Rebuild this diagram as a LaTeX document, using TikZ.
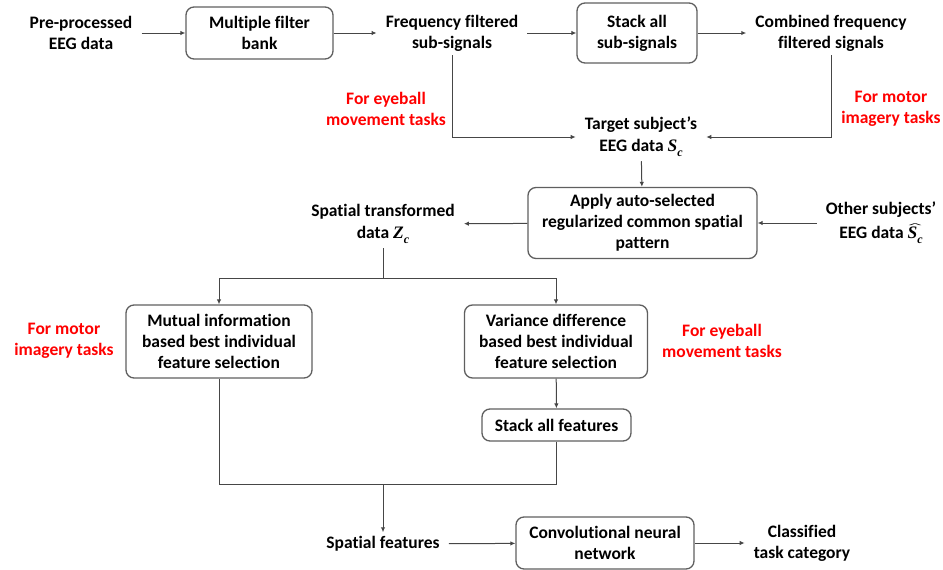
\documentclass[tikz,border=0pt]{standalone}
\usepackage{fontspec}
\setmainfont{Carlito}[Ligatures=NoCommon]
\newfontfamily\symfont{Liberation Serif}
\usepackage{graphicx}
\usetikzlibrary{arrows.meta,calc}
\definecolor{linegray}{RGB}{70,70,70}
\definecolor{boxgray}{RGB}{95,95,95}
\definecolor{notered}{RGB}{255,0,0}
% bold italic serif symbol with a subscript
\newcommand\sym[2]{{\symfont\bfseries\itshape #1\raisebox{-0.3em}{\fontsize{12}{12}\selectfont #2}}}
% a hat stretched over the whole of its argument
\newcommand\hatover[1]{\setbox0\hbox{#1}\leavevmode\rlap{\raisebox{0.66em}{\resizebox{\wd0}{0.22em}{\mdseries\textasciicircum}}}\box0}
\begin{document}
\begin{tikzpicture}[x=1pt,y=-1pt,
  font=\fontsize{17.5}{21}\selectfont\bfseries,
  box/.style={draw=boxgray, line width=1.3pt, rounded corners=8pt, align=center, inner sep=0pt},
  lbl/.style={align=center, inner xsep=9pt, inner ysep=4pt},
  note/.style={align=center, text=notered, inner sep=0pt},
  arr/.style={draw=linegray, line width=1pt, -{Latex[length=5pt,width=4.5pt]}},
  ln/.style={draw=linegray, line width=1pt}]
\useasboundingbox (0,0) rectangle (943,570);

% top row: filtering stage
\node[lbl] (pre) at (81,33) {Pre-processed\\EEG data};
\node[box, minimum width=147, minimum height=52] (mfb) at (259.5,33) {Multiple filter\\bank};
\node[lbl] (freq) at (452,33) {Frequency filtered\\sub-signals};
\node[box, minimum width=120, minimum height=60] (stack) at (637,33) {Stack all\\sub-signals};
\node[lbl] (comb) at (831,33) {Combined frequency\\filtered signals};

% target subject data
\node[lbl] (target) at (641,137) {Target subject’s\\[1pt]EEG data \sym{S}{c}};
\node[note] (noteA) at (386,109) {For eyeball\\movement tasks};
\node[note] (noteB) at (891,109) {For motor\\imagery tasks};

% spatial filtering
\node[box, minimum width=229, minimum height=71] (rcsp) at (642.5,223) {Apply auto-selected\\regularized common spatial\\pattern};
\node[lbl] (other) at (881,223) {Other subjects’\\[3pt]EEG data \hatover{\sym{S}{c}}};
\node[lbl] (ztr) at (383,224) {Spatial transformed\\[1pt]data \sym{Z}{c}};

% feature selection
\node[note] (noteC) at (64,341) {For motor\\imagery tasks};
\node[box, minimum width=186, minimum height=73] (mi) at (219,341.5) {Mutual information\\based best individual\\feature selection};
\node[box, minimum width=183, minimum height=73] (vd) at (556,341.5) {Variance difference\\based best individual\\feature selection};
\node[note] (noteD) at (722,341) {For eyeball\\movement tasks};
\node[box, minimum width=149, minimum height=32] (sf) at (556.5,425) {Stack all features};

% classification
\node[lbl] (spf) at (383,544) {Spatial features};
\node[box, minimum width=178, minimum height=52] (cnn) at (605,543) {Convolutional neural\\network};
\node[lbl] (cls) at (802,543) {Classified\\task category};

\coordinate (split) at (383,278);
\coordinate (join) at (383,484);

% connectors
\draw[arr] (pre) -- (mfb);
\draw[arr] (mfb) -- (freq);
\draw[arr] (freq) -- (stack);
\draw[arr] (stack) -- (comb);
\draw[arr] (freq.south) |- (target.west);
\draw[arr] (comb.south) |- (target.east);
\draw[arr] (target) -- (rcsp);
\draw[arr] (other) -- (rcsp);
\draw[arr] (rcsp) -- (ztr);
\draw[ln] (ztr.south) -- (split);
\draw[arr] (split) -| (mi.north);
\draw[arr] (split) -| (vd.north);
\draw[arr] (vd) -- (sf);
\draw[ln] (mi.south) |- (join);
\draw[ln] (sf.south) |- (join);
\draw[arr] (join) -- (spf);
\draw[arr] (spf) -- (cnn);
\draw[arr] (cnn) -- (cls);
\end{tikzpicture}
\end{document}
